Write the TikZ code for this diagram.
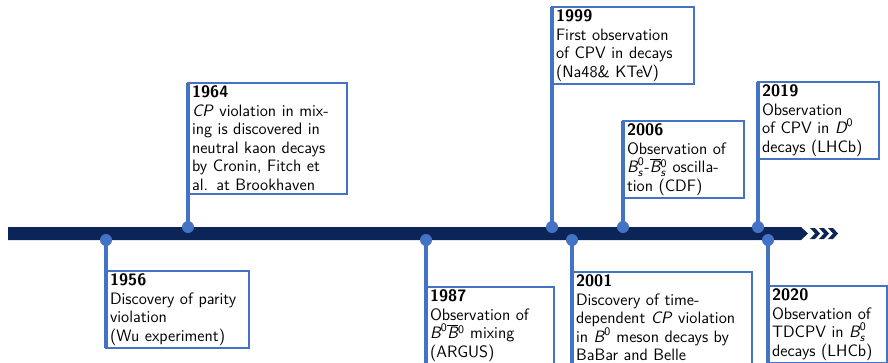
\documentclass[tikz,border=0pt]{standalone}
\usepackage{amsmath}

\definecolor{barnavy}{RGB}{12,37,89}
\definecolor{evblue}{RGB}{68,114,196}

\newcommand{\yeartitle}[1]{\textbf{#1}}

\tikzset{
  eventdot/.style={circle, fill=evblue, inner sep=0pt, minimum size=9pt},
  stem/.style={evblue, line width=3pt},
  infobox/.style={draw=evblue, line width=1.5pt, fill=white, anchor=north west,
    outer sep=0pt, inner xsep=3pt, inner ysep=2.2pt, align=left, text width=#1,
    font=\sffamily\fontsize{12.4}{13.9}\selectfont}
}

\begin{document}
\begin{tikzpicture}[x=0.75pt,y=-0.75pt]
    \useasboundingbox (0,0) rectangle (888,362);
    \clip (0,0) rectangle (888,362);

    % --- Timeline bar ---
    \def\bartop{227}   % upper edge of the bar
    \def\barbot{240}   % lower edge of the bar
    \fill[barnavy] (8,\bartop) -- (801,\bartop) -- (808,233.5) -- (801,\barbot) -- (8,\barbot) -- cycle;

    % chevrons at the end of the bar
    \foreach \cx in {810,819,828} {
        \fill[barnavy] (\cx,228) -- (\cx+5,228) -- (\cx+10,233.5) -- (\cx+5,239) -- (\cx,239) -- (\cx+5,233.5) -- cycle;
    }

    % --- Event dots ---
    \node[eventdot] (e1956) at (106,\barbot) {};
    \node[eventdot] (e1964) at (188,\bartop) {};
    \node[eventdot] (e1987) at (426,\barbot) {};
    \node[eventdot] (e1999) at (552,\bartop) {};
    \node[eventdot] (e2001) at (572,\barbot) {};
    \node[eventdot] (e2006) at (623,\bartop) {};
    \node[eventdot] (e2019) at (758,\bartop) {};
    \node[eventdot] (e2020) at (768,\barbot) {};

    % --- Boxes above the bar ---
    \node[infobox=113.25pt] (b1964) at (188,83) {\yeartitle{1964}\\
        \textit{CP} violation in mix-\\ing is discovered in\\neutral kaon decays\\by Cronin, Fitch et\\al. at Brookhaven};
    \node[infobox=100.5pt] (b1999) at (552,7) {\yeartitle{1999}\\
        First observation\\of CPV in decays\\(Na48\& KTeV)};
    \node[infobox=84.75pt] (b2006) at (623,121) {\yeartitle{2006}\\
        Observation of\\$\textit{B}^{\textsf{0}}_{\textit{s}}$-$\overline{\textit{B}}{}^{\textsf{0}}_{\textit{s}}$ oscilla-\\tion (CDF)};
    \node[infobox=84.75pt] (b2019) at (758,82) {\yeartitle{2019}\\
        Observation\\of CPV in $\textit{D}^{\textsf{0}}$\\decays (LHCb)};

    % --- Boxes below the bar ---
    \node[infobox=101.25pt] (b1956) at (106,271) {\yeartitle{1956}\\
        Discovery of parity\\violation\\(Wu experiment)};
    \node[infobox=90pt] (b1987) at (426,287) {\yeartitle{1987}\\
        Observation of\\$\textit{B}^{\textsf{0}}\overline{\textit{B}}{}^{\textsf{0}}$ mixing\\(ARGUS)};
    \node[infobox=129pt] (b2001) at (572,272) {\yeartitle{2001}\\
        Discovery of time-\\dependent \textit{CP} violation\\in $\textit{B}^{\textsf{0}}$ meson decays by\\BaBar and Belle};
    \node[infobox=83.25pt] (b2020) at (768,286) {\yeartitle{2020}\\
        Observation of\\TDCPV in $\textit{B}^{\textsf{0}}_{\textit{s}}$\\decays (LHCb)};

    % --- Stems from the dots to the boxes ---
    \draw[stem] (e1964.center) -- (b1964.north west);
    \draw[stem] (e1999.center) -- (b1999.north west);
    \draw[stem] (e2006.center) -- (b2006.north west);
    \draw[stem] (e2019.center) -- (b2019.north west);
    \draw[stem] (e1956.center) -- (b1956.south west);
    \draw[stem] (e1987.center) -- (b1987.south west);
    \draw[stem] (e2001.center) -- (b2001.south west);
    \draw[stem] (e2020.center) -- (b2020.south west);

\end{tikzpicture}
\end{document}
